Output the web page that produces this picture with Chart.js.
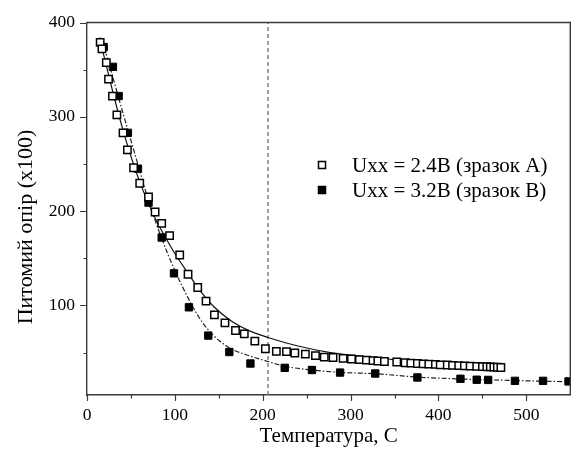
<!DOCTYPE html>
<html><head><meta charset="utf-8">
<script src="https://cdn.jsdelivr.net/npm/chart.js@4/dist/chart.umd.min.js"></script>
<style>html,body{margin:0;padding:0;background:#fff}#wrap{width:577px;height:452px}</style>
</head><body><div id="wrap"><canvas id="c" width="577" height="452"></canvas></div>
<script>
// ---- data ----
const seriesLabels = ['Uxx = 2.4В (зразок А)', 'Uxx = 3.2В (зразок В)'];
const xTitle = 'Температура, С';
const yTitle = 'Питомий опір (x100)';
const xTickValues = [0, 50, 100, 150, 200, 250, 300, 350, 400, 450, 500];
const yTickValues = [50, 100, 150, 200, 250, 300, 350, 400];
const markerTemp = 206;

const tempA = [15,17,22,24.5,29,34,41,46,53,60,70,77.5,85,94,105.5,115,126,135.5,145,157,169,179,191,203,215.5,227,236.5,248.5,260,270,280,291.5,301,310,318,325.5,331,338.5,352.5,362,368.5,376,382.5,389,396.5,402,410,416,423,429.5,436,443.5,450,455,459,463,467,471];
const resA  = [379,372,357.5,340,322,302,283,265,246,229.5,215,199,187,174,153.5,133,119,104.6,90,81.5,73.4,69.8,62.2,54,51.2,51,49.5,48.4,46.8,45.2,44.8,43.9,43.2,42.5,42,41.4,41,40.5,40,39.2,38.8,38.4,38,37.8,37.4,37,36.8,36.4,36.1,35.9,35.6,35.4,35.1,35,34.8,34.6,34.4,34.2];

const tempB = [19,29.5,36,46.5,58,70,85,99,116,138,162,186,225,256,288,328,376,425,443.5,456.5,487,519,548];
const resB  = [374,353,322,283,245,209,172,134,98,68,50.6,38.4,33.8,31.5,28.8,27.8,23.6,22.2,21.2,21,20,20,19.4];

const fitA_T = [14,20,30,40,50,60,70,80,90,100,115,130,145,165,185,206,240,277,330,400,470];
const fitA_R = [384,362,324,289,258,231,208,188,171,155,134,114,98,83,73,66,57,50,44.5,37.5,34];
const fitB_T = [16,20,30,40,50,60,70,85,100,115,127,138,150,164,185,206,225,256,288,329,376,425,480,550];
const fitB_R = [384,372,340,307,275,243,211,171,137,108,88,74,63,54,46.5,40.5,35.5,31.5,29,27.5,24,22,20.5,19];

const pts = (xs, ys) => xs.map((x, i) => ({x, y: ys[i]}));
const FONT = "'Liberation Serif', 'Times New Roman', serif";
const AXIS = '#3a3a3a';
Chart.defaults.font.family = FONT;
Chart.defaults.font.size = 17;
Chart.defaults.color = '#000';

const extras = {
  id: 'extras',
  afterDraw(chart) {
    const {ctx, chartArea: a, scales: {x, y}} = chart;
    ctx.save();
    // frame top/right
    ctx.strokeStyle = AXIS; ctx.lineWidth = 1.4;
    ctx.beginPath();
    ctx.moveTo(a.left, a.top); ctx.lineTo(a.right, a.top); ctx.lineTo(a.right, a.bottom);
    ctx.stroke();
    // ticks
    ctx.lineWidth = 1.2;
    ctx.beginPath();
    xTickValues.forEach(v => {
      const px = Math.round(x.getPixelForValue(v)) + 0.5;
      const len = v % 100 === 0 ? 6 : 3.5;
      ctx.moveTo(px, a.bottom); ctx.lineTo(px, a.bottom + len);
    });
    yTickValues.forEach(v => {
      const py = Math.round(y.getPixelForValue(v)) + 0.5;
      const len = v % 100 === 0 ? 7 : 3.5;
      ctx.moveTo(a.left, py); ctx.lineTo(a.left - len, py);
    });
    ctx.stroke();
    // y title
    ctx.fillStyle = '#000';
    ctx.font = '22px ' + FONT;
    ctx.textAlign = 'center'; ctx.textBaseline = 'middle';
    ctx.translate(26, 227); ctx.rotate(-Math.PI / 2);
    ctx.fillText(yTitle, 0, 0);
    ctx.restore();
    // legend
    ctx.save();
    ctx.font = '21px ' + FONT;
    ctx.textAlign = 'left'; ctx.textBaseline = 'middle';
    [0, 1].forEach(i => {
      const ds = chart.data.datasets[i];
      const cy = 165 + i * 25, cx = 322;
      ctx.lineWidth = 1.5;
      ctx.strokeStyle = '#000';
      ctx.fillStyle = ds.backgroundColor;
      ctx.fillRect(cx - 3.5, cy - 3.5, 7, 7);
      ctx.strokeRect(cx - 3.5, cy - 3.5, 7, 7);
      ctx.fillStyle = '#000';
      ctx.fillText(seriesLabels[i], 352, cy + 1);
    });
    ctx.restore();
  }
};

new Chart(document.getElementById('c'), {
  type: 'scatter',
  data: {
    datasets: [
      { label: seriesLabels[0], data: pts(tempA, resA), pointStyle: 'rect', pointRadius: 5.2,
        backgroundColor: '#fff', borderColor: '#000', borderWidth: 1.5, order: 0 },
      { label: seriesLabels[1], data: pts(tempB, resB), pointStyle: 'rect', pointRadius: 5.2,
        backgroundColor: '#000', borderColor: '#000', borderWidth: 1, order: 0 },
      { data: pts(fitA_T, fitA_R), showLine: true, pointRadius: 0, borderColor: '#111',
        borderWidth: 1.2, cubicInterpolationMode: 'monotone', order: 1 },
      { data: pts(fitB_T, fitB_R), showLine: true, pointRadius: 0, borderColor: '#222',
        borderWidth: 1.2, borderDash: [5, 2, 1.5, 2], cubicInterpolationMode: 'monotone', order: 1 },
      { data: [{x: markerTemp, y: 5}, {x: markerTemp, y: 400}], showLine: true, pointRadius: 0,
        borderColor: '#808080', borderWidth: 1.5, borderDash: [4, 3], order: 2 }
    ]
  },
  options: {
    responsive: false, animation: false, devicePixelRatio: 1,
    layout: { padding: { top: 17, right: 1, left: 0, bottom: 0 } },
    plugins: { legend: { display: false }, tooltip: { enabled: false } },
    scales: {
      x: {
        type: 'linear', min: 0, max: 550,
        afterBuildTicks: s => { s.ticks = xTickValues.map(v => ({value: v})); },
        afterFit: s => { s.height = 57; },
        grid: { display: true, drawOnChartArea: false, drawTicks: false },
        border: { display: true, color: AXIS, width: 1.4 },
        ticks: { color: '#000', padding: 10, font: { family: FONT, size: 17.5 },
                 maxRotation: 0, autoSkip: false, callback: v => (v % 100 === 0 ? String(v) : '') },
        title: { display: true, text: xTitle, color: '#000', font: { family: FONT, size: 21 },
                 padding: { top: 0, bottom: 3 } }
      },
      y: {
        type: 'linear', min: 5, max: 400,
        afterBuildTicks: s => { s.ticks = yTickValues.map(v => ({value: v})); },
        afterFit: s => { s.width = 87; },
        grid: { display: true, drawOnChartArea: false, drawTicks: false },
        border: { display: true, color: AXIS, width: 1.4 },
        ticks: { color: '#000', padding: 12, font: { family: FONT, size: 17.5 }, autoSkip: false,
                 callback: v => (v % 100 === 0 ? String(v) : '') }
      }
    }
  },
  plugins: [extras]
});
</script></body></html>
